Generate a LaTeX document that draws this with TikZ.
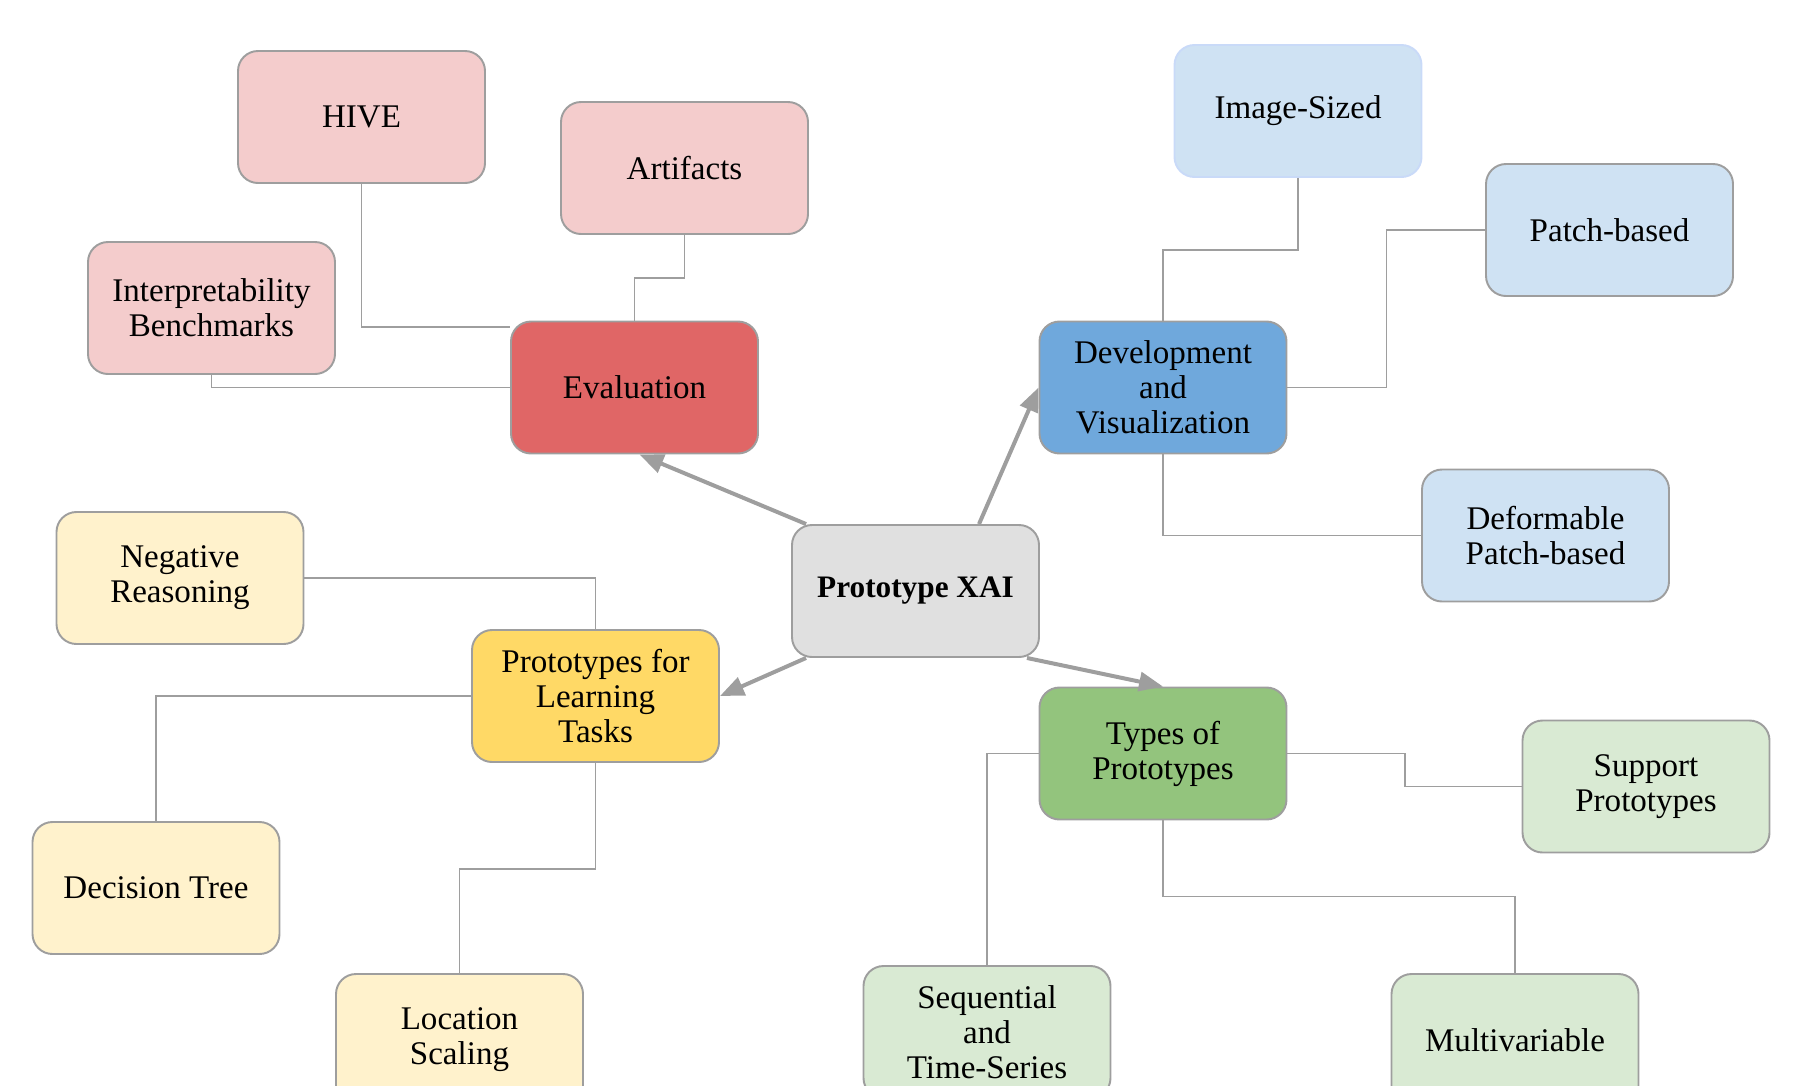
\documentclass[tikz,border=0pt]{standalone}
\usepackage{fontspec}
\setmainfont{Liberation Serif}
\usetikzlibrary{arrows.meta, positioning}
\usepackage{xcolor}
\definecolor{evalcolor}{RGB}{224, 102, 102}
\definecolor{evallight}{RGB}{244, 204, 204}
\definecolor{devcolor}{RGB}{111, 168, 220}
\definecolor{devlight}{RGB}{207, 226, 243}
\definecolor{devedge}{RGB}{201, 218, 248}
\definecolor{taskcolor}{RGB}{255, 217, 102}
\definecolor{tasklight}{RGB}{255, 242, 204}
\definecolor{typecolor}{RGB}{147, 196, 125}
\definecolor{typelight}{RGB}{217, 234, 211}
\definecolor{rootcolor}{RGB}{224, 224, 224}
\definecolor{edgegray}{RGB}{158, 158, 158}

\begin{document}
\begin{tikzpicture}[
    box/.style={rectangle, draw=edgegray, line width=1.1pt, rounded corners=0.4cm, minimum width=4.94cm, minimum height=2.64cm, align=center, font=\fontsize{18.8}{20}\selectfont},
    root/.style={box, fill=rootcolor, font=\fontsize{17.8}{20}\selectfont\bfseries},
    eval/.style={box, fill=evalcolor},
    evalsub/.style={box, fill=evallight},
    dev/.style={box, fill=devcolor},
    devsub/.style={box, fill=devlight},
    task/.style={box, fill=taskcolor},
    tasksub/.style={box, fill=tasklight},
    type/.style={box, fill=typecolor},
    typesub/.style={box, fill=typelight},
    arrow/.style={-{Triangle[length=0.48cm, width=0.38cm]}, line width=0.08cm, draw=edgegray, fill=edgegray},
    link/.style={line width=1.1pt, draw=edgegray}
]
\useasboundingbox (0,0) rectangle (35.86,-21.70);

% Root
\node[root] (xai) at (18.31,-11.82) {Prototype XAI};

% Evaluation
\node[eval] (evaluation) at (12.69,-7.75) {Evaluation};
\node[evalsub] (hive) at (7.23,-2.34) {HIVE};
\node[evalsub] (artifacts) at (13.69,-3.36) {Artifacts};
\node[evalsub] (bench) at (4.23,-6.16) {Interpretability\\Benchmarks};

% Development and Visualization
\node[dev] (devvis) at (23.26,-7.75) {Development\\and\\Visualization};
\node[devsub, draw=devedge] (imgsized) at (25.96,-2.22) {Image-Sized};
\node[devsub] (patch) at (32.19,-4.60) {Patch-based};
\node[devsub] (deform) at (30.91,-10.71) {Deformable\\Patch-based};

% Prototypes for Learning Tasks
\node[task] (tasks) at (11.91,-13.92) {Prototypes for\\Learning\\Tasks};
\node[tasksub] (negative) at (3.60,-11.56) {Negative\\Reasoning};
\node[tasksub] (dtree) at (3.12,-17.76) {Decision Tree};
\node[tasksub] (locscale) at (9.19,-20.80) {Location\\Scaling};

% Types of Prototypes
\node[type] (types) at (23.26,-15.07) {Types of\\Prototypes};
\node[typesub] (support) at (32.92,-15.73) {Support\\Prototypes};
\node[typesub] (seqts) at (19.74,-20.64) {Sequential\\and\\Time-Series};
\node[typesub] (multivar) at (30.30,-20.80) {Multivariable};

% Arrows
\draw[arrow] ([xshift=0.3cm]xai.north west) -- ([xshift=0.1cm]evaluation.south);
\draw[arrow] ([xshift=1.27cm]xai.north) -- (devvis.west);
\draw[arrow] ([xshift=0.3cm]xai.south west) -- (tasks.east);
\draw[arrow] ([xshift=-0.26cm]xai.south east) -- (types.north);

% Links
\draw[link] (hive.south) |- ([yshift=-0.12cm]evaluation.north west);
\draw[link] (artifacts.south) -- ++(0,-0.86) -| (evaluation.north);
\draw[link] (bench.south) |- (evaluation.west);
\draw[link] (imgsized.south) -- ++(0,-1.44) -| (devvis.north);
\draw[link] (devvis.east) -- ++(1.98,0) |- (patch.west);
\draw[link] (devvis.south) |- (deform.west);
\draw[link] (negative.east) -| (tasks.north);
\draw[link] (tasks.west) -| (dtree.north);
\draw[link] (tasks.south) -- ++(0,-2.12) -| (locscale.north);
\draw[link] (types.west) -| (seqts.north);
\draw[link] (types.east) -- ++(2.35,0) |- (support.west);
\draw[link] (types.south) -- ++(0,-1.52) -| (multivar.north);

\end{tikzpicture}
\end{document}
